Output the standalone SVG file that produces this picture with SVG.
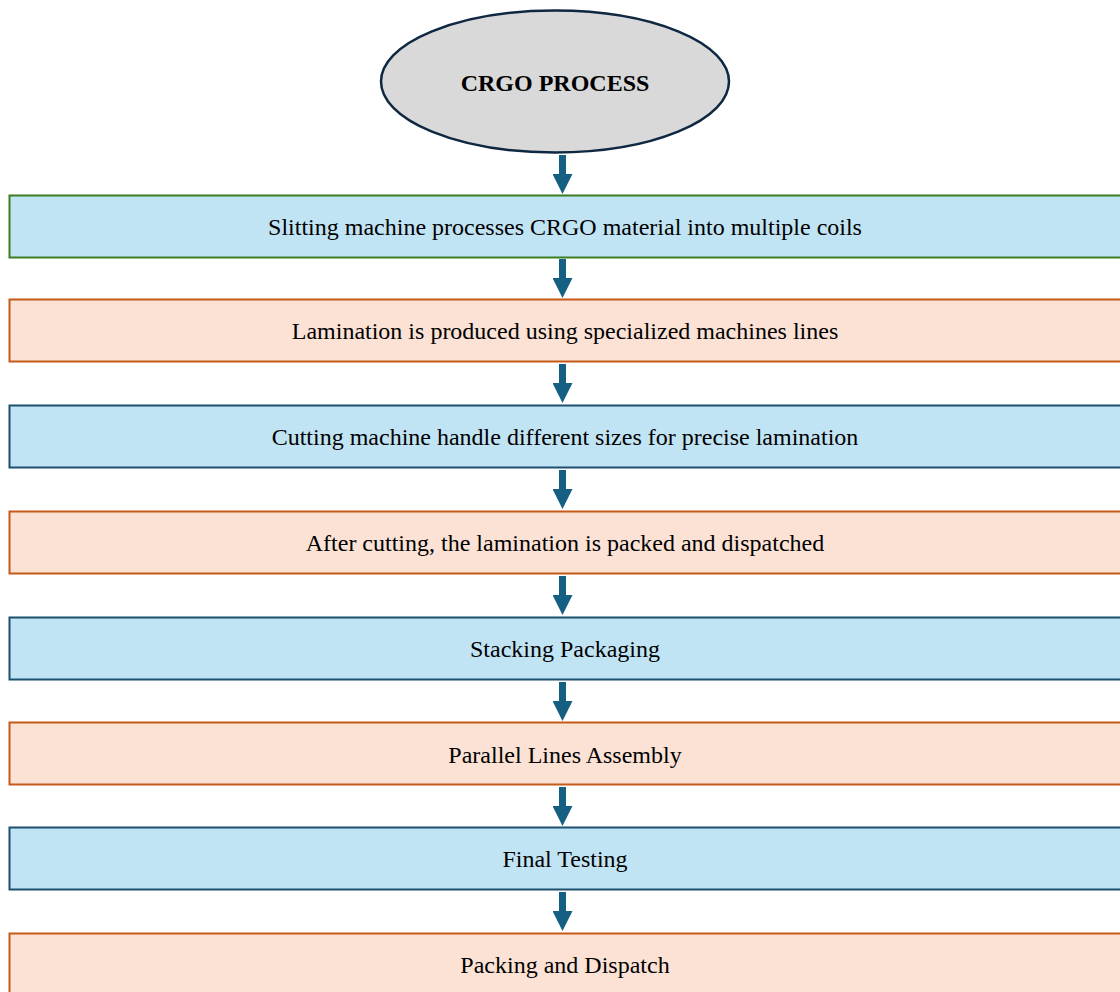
<svg xmlns="http://www.w3.org/2000/svg" width="1120" height="992" viewBox="0 0 1120 992">
<defs>
<marker id="ah" markerWidth="20" markerHeight="20" refX="0" refY="10" orient="auto" markerUnits="userSpaceOnUse" viewBox="0 0 20 20">
<path d="M0,0 L20,10 L0,20 Z" fill="#156082"/>
</marker>
</defs>
<style>
.t{font-family:"Liberation Serif","Times New Roman",serif;font-size:24px;fill:#000;text-anchor:middle}
.b{fill:#C1E4F5;stroke:#1D4F6E;stroke-width:2}
.o{fill:#FBE2D5;stroke:#C55A1B;stroke-width:2}
.g{fill:#C1E4F5;stroke:#3B7D23;stroke-width:2}
.c{stroke:#156082;stroke-width:7;fill:none}
</style>
<rect width="1120" height="992" fill="#fff"/>
<g id="start">
<ellipse cx="555" cy="81.5" rx="174" ry="71" fill="#D9D9D9" stroke="#0E2841" stroke-width="2.5"/>
<text class="t" x="555" y="91" font-weight="bold">CRGO PROCESS</text>
</g>
<g id="n1"><rect class="g" x="9.5" y="195.5" width="1112" height="62"/><text class="t" x="565" y="235">Slitting machine processes CRGO material into multiple coils</text></g>
<g id="n2"><rect class="o" x="9.5" y="299.5" width="1112" height="62"/><text class="t" x="565" y="339">Lamination is produced using specialized machines lines</text></g>
<g id="n3"><rect class="b" x="9.5" y="405.5" width="1112" height="62"/><text class="t" x="565" y="445">Cutting machine handle different sizes for precise lamination</text></g>
<g id="n4"><rect class="o" x="9.5" y="511.5" width="1112" height="62"/><text class="t" x="565" y="551">After cutting, the lamination is packed and dispatched</text></g>
<g id="n5"><rect class="b" x="9.5" y="617.5" width="1112" height="62"/><text class="t" x="565" y="657">Stacking Packaging</text></g>
<g id="n6"><rect class="o" x="9.5" y="722.5" width="1112" height="62"/><text class="t" x="565" y="763">Parallel Lines Assembly</text></g>
<g id="n7"><rect class="b" x="9.5" y="827.5" width="1112" height="62"/><text class="t" x="565" y="867">Final Testing</text></g>
<g id="n8"><rect class="o" x="9.5" y="933.5" width="1112" height="62"/><text class="t" x="565" y="973">Packing and Dispatch</text></g>
<g id="connectors">
<path class="c" d="M562.5,155 V174" marker-end="url(#ah)"/>
<path class="c" d="M562.5,259 V278" marker-end="url(#ah)"/>
<path class="c" d="M562.5,364 V383" marker-end="url(#ah)"/>
<path class="c" d="M562.5,470 V489" marker-end="url(#ah)"/>
<path class="c" d="M562.5,576 V595" marker-end="url(#ah)"/>
<path class="c" d="M562.5,682 V701" marker-end="url(#ah)"/>
<path class="c" d="M562.5,787 V806" marker-end="url(#ah)"/>
<path class="c" d="M562.5,892 V911" marker-end="url(#ah)"/>
</g>
</svg>
